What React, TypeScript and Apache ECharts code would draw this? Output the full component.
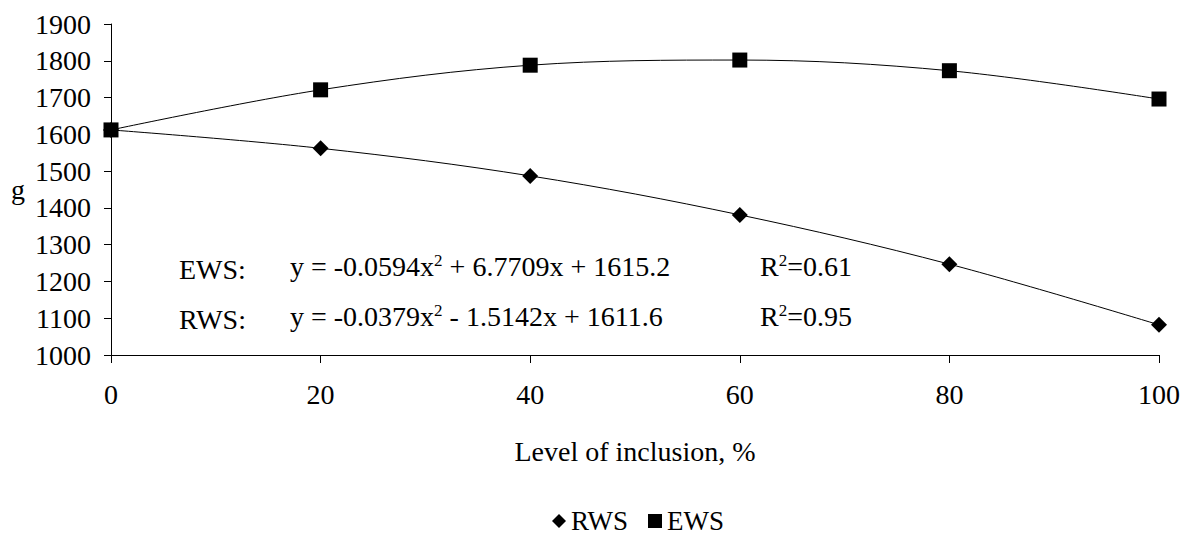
import React, { useEffect, useRef } from "react";
import * as echarts from "echarts";

const levels = [0, 20, 40, 60, 80, 100];
const rwsValues = [1612, 1562, 1487, 1381, 1247, 1082];
const ewsValues = [1612, 1721, 1788, 1802, 1773, 1696];
const yTicks = [1000, 1100, 1200, 1300, 1400, 1500, 1600, 1700, 1800, 1900];
const ewsEquation = ["EWS:", "y = -0.0594x", " + 6.7709x + 1615.2", "=0.61"];
const rwsEquation = ["RWS:", "y = -0.0379x", " - 1.5142x + 1611.6", "=0.95"];

const FONT = "Liberation Serif";
const FS = 28;

export default function App() {
  const ref = useRef<HTMLDivElement>(null);
  useEffect(() => {
    if (!ref.current) return;
    const chart = echarts.init(ref.current, undefined, { renderer: "svg" });
    const rich = {
      n: { fontFamily: FONT, fontSize: FS, color: "#000" },
      sup: { fontFamily: FONT, fontSize: 17, color: "#000", verticalAlign: "top", padding: [0, 0, 12, 0] },
    };
    const eqRow = (eq: string[], y: number) => [
      {
        type: "text",
        left: 179,
        top: y,
        style: { text: eq[0], fontFamily: FONT, fontSize: FS, fill: "#000" },
      },
      {
        type: "text",
        left: 290,
        top: y - 3,
        style: { text: `{n|${eq[1]}}{sup|2}{n|${eq[2]}}`, rich, fill: "#000" },
      },
      {
        type: "text",
        left: 760,
        top: y - 3,
        style: { text: `{n|R}{sup|2}{n|${eq[3]}}`, rich, fill: "#000" },
      },
    ];
    chart.setOption({
      animation: false,
      backgroundColor: "#fff",
      textStyle: { fontFamily: FONT, color: "#000" },
      grid: { left: 111, right: 31, top: 24, bottom: 182, containLabel: false },
      legend: {
        top: 502,
        left: 547,
        itemWidth: 14,
        itemHeight: 14,
        itemGap: 20,
        textStyle: { fontFamily: FONT, fontSize: 27, lineHeight: 28, color: "#000" },
        data: [
          { name: "RWS", icon: "diamond" },
          { name: "EWS", icon: "rect" },
        ],
      },
      xAxis: {
        type: "value",
        min: 0,
        max: 100,
        interval: 20,
        name: "Level of inclusion, %",
        nameLocation: "middle",
        nameGap: 82,
        nameTextStyle: { fontFamily: FONT, fontSize: FS, color: "#000" },
        axisLine: { lineStyle: { color: "#000", width: 1 } },
        axisTick: { show: true, length: 8, lineStyle: { color: "#000" } },
        axisLabel: { fontFamily: FONT, fontSize: FS, color: "#000", margin: 25 },
        splitLine: { show: false },
      },
      yAxis: {
        type: "value",
        min: yTicks[0],
        max: yTicks[yTicks.length - 1],
        interval: 100,
        name: "g",
        nameLocation: "middle",
        nameRotate: 0,
        nameGap: 86,
        nameTextStyle: { fontFamily: FONT, fontSize: FS, color: "#000" },
        axisLine: { show: true, lineStyle: { color: "#000", width: 1 } },
        axisTick: { show: true, length: 7, inside: false, lineStyle: { color: "#000" } },
        axisLabel: {
          fontFamily: FONT,
          fontSize: FS,
          color: "#000",
          margin: 20,
          formatter: (v: number) => String(v),
        },
        splitLine: { show: false },
      },
      series: [
        {
          name: "RWS",
          type: "line",
          smooth: 0.35,
          data: levels.map((x, i) => [x, rwsValues[i]]),
          symbol: "diamond",
          symbolSize: 16,
          itemStyle: { color: "#000" },
          lineStyle: { color: "#000", width: 1 },
          z: 3,
        },
        {
          name: "EWS",
          type: "line",
          smooth: 0.35,
          data: levels.map((x, i) => [x, ewsValues[i]]),
          symbol: "rect",
          symbolSize: 15,
          itemStyle: { color: "#000" },
          lineStyle: { color: "#000", width: 1 },
          z: 4,
        },
      ],
      graphic: [...eqRow(ewsEquation, 255), ...eqRow(rwsEquation, 305)],
    });
    return () => chart.dispose();
  }, []);
  return (
    <div
      ref={ref}
      style={{ position: "fixed", left: 0, top: 0, width: 1190, height: 537 }}
    />
  );
}
